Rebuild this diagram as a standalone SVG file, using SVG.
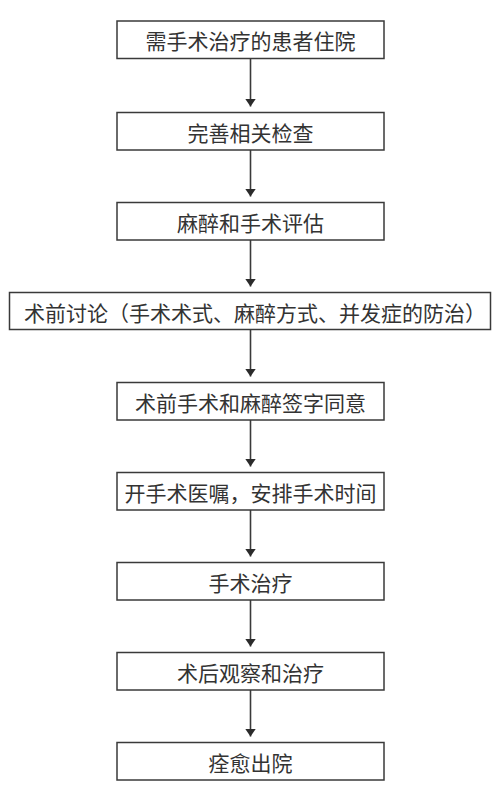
<svg xmlns="http://www.w3.org/2000/svg" width="500" height="800" viewBox="0 0 500 800">
<style>
.box{fill:#fff;stroke:#3a3a3a;stroke-width:1.5}
.t{font-family:"Noto Sans CJK SC","Noto Sans",sans-serif;font-size:21px;fill:#333;text-anchor:middle;dominant-baseline:central}
.c{stroke:#3a3a3a;stroke-width:1.6;fill:none;marker-end:url(#ah)}
</style>
<defs>
<marker id="ah" markerUnits="userSpaceOnUse" markerWidth="10" markerHeight="12" refX="8" refY="5.5" orient="auto">
<path d="M0,0 L8,5.5 L0,11 Z" fill="#2b2b2b"/>
</marker>
</defs>
<rect width="500" height="800" fill="#fff"/>
<g id="connectors">
<line class="c" x1="250.5" y1="58.5" x2="250.5" y2="106.5"/>
<line class="c" x1="250.5" y1="150" x2="250.5" y2="196.5"/>
<line class="c" x1="250.5" y1="240" x2="250.5" y2="286.5"/>
<line class="c" x1="250.5" y1="330" x2="250.5" y2="376.5"/>
<line class="c" x1="250.5" y1="420" x2="250.5" y2="466.5"/>
<line class="c" x1="250.5" y1="510" x2="250.5" y2="556.5"/>
<line class="c" x1="250.5" y1="600" x2="250.5" y2="646.5"/>
<line class="c" x1="250.5" y1="690" x2="250.5" y2="736.5"/>
</g>
<g id="n1"><rect class="box" x="117" y="21" width="267" height="37.5"/><text class="t" x="250.5" y="40">需手术治疗的患者住院</text></g>
<g id="n2"><rect class="box" x="117" y="112.5" width="267" height="37.5"/><text class="t" x="250.5" y="131.5">完善相关检查</text></g>
<g id="n3"><rect class="box" x="117" y="202.5" width="267" height="37.5"/><text class="t" x="250.5" y="221.5">麻醉和手术评估</text></g>
<g id="n4"><rect class="box" x="9.5" y="292.5" width="481" height="37"/><text class="t" x="255" y="311.5">术前讨论（手术术式、麻醉方式、并发症的防治）</text></g>
<g id="n5"><rect class="box" x="117" y="382.5" width="267" height="37.5"/><text class="t" x="250.5" y="401.5">术前手术和麻醉签字同意</text></g>
<g id="n6"><rect class="box" x="117" y="472.5" width="267" height="37.5"/><text class="t" x="250.5" y="491.5">开手术医嘱，安排手术时间</text></g>
<g id="n7"><rect class="box" x="117" y="562.5" width="267" height="37.5"/><text class="t" x="250.5" y="581.5">手术治疗</text></g>
<g id="n8"><rect class="box" x="117" y="652.5" width="267" height="37.5"/><text class="t" x="250.5" y="671.5">术后观察和治疗</text></g>
<g id="n9"><rect class="box" x="117" y="742.5" width="267" height="37.5"/><text class="t" x="250.5" y="761.5">痊愈出院</text></g>
</svg>
